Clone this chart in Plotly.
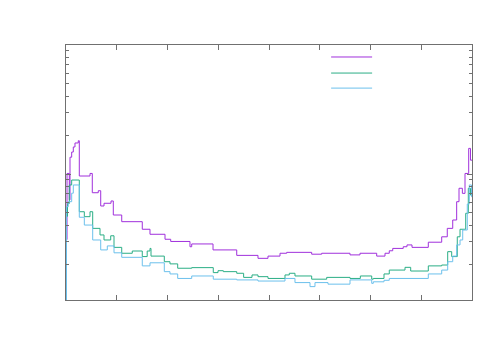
import plotly.graph_objects as go

# Step-histogram data (bin left edges; last value repeated at the right end x=8)
purple_x = [0, 0.02, 0.065, 0.079, 0.112, 0.144, 0.177, 0.242, 0.262, 0.473, 0.518, 0.636,
            0.684, 0.749, 0.887, 0.932, 1.098, 1.503, 1.655, 1.951, 2.063, 2.443, 2.477,
            2.897, 3.364, 3.783, 3.98, 4.217, 4.349, 4.841, 5.038, 5.596, 5.793, 6.122,
            6.286, 6.37, 6.438, 6.645, 6.719, 6.818, 7.139, 7.403, 7.513, 7.62, 7.698,
            7.744, 7.81, 7.862, 7.935, 7.97, 8.0]
purple_y = [3.1, 10.1, 6.3, 13.5, 14.8, 16.2, 17.4, 18.1, 9.65, 10.1, 7.16, 7.42,
            5.65, 5.93, 6.18, 4.81, 4.27, 3.73, 3.41, 3.12, 3.0, 2.73, 2.87,
            2.58, 2.34, 2.22, 2.31, 2.43, 2.47, 2.39, 2.43, 2.36, 2.43, 2.31,
            2.43, 2.54, 2.65, 2.73, 2.82, 2.70, 2.96, 3.26, 3.79, 4.40, 6.10,
            7.75, 7.08, 10.1, 15.8, 12.8, 12.8]

green_x = [0, 0.03, 0.065, 0.112, 0.262, 0.361, 0.473, 0.526, 0.670, 0.749, 0.881, 0.946,
           1.098, 1.306, 1.503, 1.6, 1.655, 1.675, 1.937, 2.049, 2.201, 2.477, 2.902,
           2.995, 3.1, 3.364, 3.5, 3.665, 3.783, 3.98, 4.315, 4.4, 4.512, 4.841, 5.137,
           5.596, 5.8, 6.024, 6.055, 6.266, 6.37, 6.68, 6.792, 7.139, 7.403, 7.521, 7.6,
           7.71, 7.764, 7.876, 7.927, 7.97, 8.0]
green_y = [4.7, 5.9, 8.22, 8.98, 5.1, 4.67, 5.1, 3.79, 3.37, 3.08, 3.32, 2.70,
           2.43, 2.53, 2.29, 2.53, 2.65, 2.31, 2.09, 2.01, 1.86, 1.88, 1.72,
           1.78, 1.75, 1.70, 1.58, 1.65, 1.60, 1.55, 1.65, 1.70, 1.62, 1.53, 1.58,
           1.55, 1.62, 1.53, 1.55, 1.68, 1.80, 1.89, 1.77, 1.94, 1.97, 2.50, 2.29,
           3.26, 3.73, 4.96, 7.75, 6.87, 6.87]

blue_x = [0, 0.01, 0.045, 0.112, 0.144, 0.262, 0.361, 0.526, 0.684, 0.814, 0.946, 1.098,
          1.503, 1.655, 1.937, 2.049, 2.201, 2.477, 2.902, 3.364, 3.783, 4.315, 4.512,
          4.808, 4.906, 5.163, 5.596, 6.024, 6.055, 6.266, 6.37, 7.139, 7.403, 7.521,
          7.62, 7.698, 7.764, 7.817, 7.907, 7.947, 7.99, 8.0]
blue_y = [1.0, 5.58, 6.1, 7.1, 8.22, 4.62, 4.02, 3.08, 2.58, 2.77, 2.45, 2.26,
          1.94, 2.05, 1.75, 1.68, 1.55, 1.62, 1.53, 1.51, 1.48, 1.55, 1.44,
          1.34, 1.44, 1.40, 1.51, 1.42, 1.46, 1.50, 1.55, 1.68, 1.80, 2.09,
          2.31, 2.82, 3.08, 3.68, 5.85, 8.22, 6.67, 6.67]

colors = ["#a030dc", "#2aae85", "#6cc0ec"]
series = [(purple_x, purple_y), (green_x, green_y), (blue_x, blue_y)]

fig = go.Figure()
for (xs, ys), c in zip(series, colors):
    fig.add_trace(go.Scatter(x=xs, y=ys, mode="lines", line=dict(color=c, width=1, shape="hv"),
                             showlegend=False, hoverinfo="skip"))

# legend keys (gnuplot-style key with sample lines only)
key_y = [0.953, 0.890, 0.831]
for c, ky in zip(colors, key_y):
    fig.add_shape(type="line", xref="paper", yref="paper", x0=0.653, x1=0.754, y0=ky, y1=ky,
                  line=dict(color=c, width=1))

axis_common = dict(showgrid=False, zeroline=False, showline=True, linecolor="#707070", linewidth=1,
                   mirror="ticks", ticks="inside", tickcolor="#707070", showticklabels=False)

fig.update_xaxes(range=[0, 8], dtick=1, ticklen=5, **axis_common)
fig.update_yaxes(type="log", range=[0.0233, 2.0], dtick=1, ticklen=5,
                 minor=dict(ticks="inside", ticklen=3, tickcolor="#707070", showgrid=False),
                 **axis_common)

fig.update_layout(width=500, height=350, margin=dict(l=58, r=36, t=37, b=58),
                  plot_bgcolor="white", paper_bgcolor="white", showlegend=False)

fig.write_html("out.html")
